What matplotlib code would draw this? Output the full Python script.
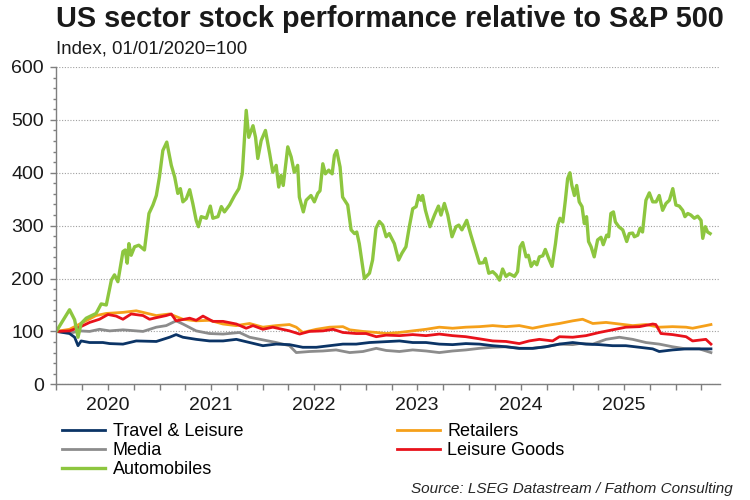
import matplotlib
matplotlib.use("Agg")
import matplotlib.pyplot as plt
import matplotlib.dates as mdates
from matplotlib.ticker import MultipleLocator
import pandas as pd

plt.rcParams["font.family"] = ["Liberation Sans", "DejaVu Sans"]

# days since 01/01/2020 (index, 01/01/2020=100)
travel_days = [0, 47, 65, 77, 88, 118, 165, 189, 236, 283, 354, 401, 424, 448, 495, 542, 590, 637, 684,
               731, 778, 825, 872, 920, 967, 1014, 1061, 1108, 1179, 1214, 1261, 1308, 1355, 1402, 1449,
               1497, 1544, 1591, 1638, 1685, 1732, 1780, 1827, 1874, 1921, 1968, 2015, 2063, 2110, 2133,
               2180, 2228, 2275, 2316]
travel_vals = [100, 96, 89, 73, 82, 79, 79, 77, 76, 82, 81, 89, 94, 89, 85, 82, 82, 85, 79,
               73, 76, 75, 70, 70, 73, 76, 76, 79, 81, 82, 79, 79, 76, 75, 77,
               76, 73, 71, 68, 68, 71, 76, 79, 76, 75, 73, 73, 70, 67, 62,
               65, 67, 67, 67]

retail_days = [0, 47, 94, 141, 177, 236, 283, 307, 354, 401, 448, 495, 542, 590, 637, 684, 731, 778,
               825, 849, 872, 920, 967, 1014, 1038, 1085, 1132, 1167, 1214, 1261, 1308, 1355, 1402,
               1449, 1497, 1544, 1591, 1638, 1685, 1732, 1780, 1827, 1862, 1898, 1945, 1992, 2039,
               2086, 2133, 2180, 2228, 2251, 2298, 2316]
retail_vals = [100, 104, 117, 130, 134, 136, 139, 136, 130, 133, 123, 120, 121, 114, 111, 115, 108, 111,
               113, 108, 98, 104, 108, 109, 103, 100, 98, 96, 98, 101, 104, 108, 106,
               108, 109, 111, 109, 111, 106, 111, 115, 120, 123, 115, 117, 114, 111,
               113, 108, 109, 108, 106, 111, 113]

media_days = [0, 59, 83, 118, 153, 189, 236, 307, 354, 389, 424, 448, 495, 542, 590, 648, 684, 731, 778,
              825, 849, 896, 943, 990, 1038, 1085, 1132, 1167, 1214, 1261, 1308, 1355, 1402, 1449,
              1497, 1544, 1591, 1638, 1685, 1732, 1780, 1827, 1850, 1898, 1945, 1992, 2039, 2086,
              2133, 2180, 2228, 2275, 2316]
media_vals = [100, 98, 101, 100, 104, 101, 103, 100, 108, 111, 120, 114, 101, 96, 95, 98, 89, 84, 79,
              73, 60, 62, 63, 65, 60, 62, 68, 64, 62, 65, 63, 60, 63, 65,
              68, 70, 71, 68, 68, 71, 76, 75, 77, 76, 85, 89, 85, 79,
              76, 71, 67, 67, 60]

leisure_days = [0, 47, 83, 118, 153, 183, 212, 236, 265, 307, 330, 354, 389, 407, 424, 472, 495, 519, 554,
                590, 637, 672, 696, 731, 766, 825, 861, 896, 943, 979, 1014, 1061, 1096, 1132, 1167,
                1214, 1261, 1308, 1355, 1402, 1449, 1497, 1544, 1591, 1638, 1673, 1709, 1756, 1780,
                1827, 1874, 1921, 1968, 2015, 2063, 2110, 2121, 2139, 2180, 2228, 2251, 2298, 2316]
leisure_vals = [100, 101, 108, 117, 123, 132, 129, 123, 133, 130, 123, 126, 130, 133, 120, 125, 121, 129, 119,
                119, 114, 106, 111, 104, 108, 101, 95, 100, 101, 104, 98, 96, 96, 90, 93,
                92, 94, 92, 95, 92, 90, 86, 82, 81, 77, 82, 85, 82, 90,
                89, 92, 98, 103, 108, 109, 114, 113, 96, 94, 90, 82, 85, 76]

auto_days = [0, 47, 65, 77, 88, 106, 141, 159, 177, 195, 206, 218, 236, 244, 251, 257, 265, 277, 292, 312,
             328, 342, 354, 365, 377, 391, 407, 419, 430, 439, 448, 460, 472, 483, 495, 503, 513, 531,
             545, 554, 572, 584, 595, 613, 631, 646, 658, 672, 681, 696, 705, 713, 725, 740, 755, 766,
             778, 787, 795, 803, 819, 831, 842, 854, 860, 874, 884, 901, 913, 925, 933, 943, 952, 964,
             976, 984, 992, 1004, 1013, 1031, 1043, 1055, 1063, 1072, 1082, 1090, 1108, 1119, 1131,
             1143, 1155, 1167, 1178, 1196, 1211, 1223, 1237, 1249, 1261, 1273, 1282, 1290, 1296, 1306,
             1322, 1338, 1352, 1361, 1373, 1385, 1400, 1414, 1424, 1435, 1452, 1467, 1483, 1497, 1511,
             1518, 1530, 1544, 1556, 1568, 1579, 1591, 1603, 1621, 1632, 1641, 1650, 1662, 1670, 1680,
             1691, 1700, 1709, 1721, 1730, 1742, 1754, 1766, 1774, 1782, 1792, 1801, 1809, 1817, 1824,
             1833, 1841, 1850, 1860, 1868, 1876, 1883, 1892, 1903, 1915, 1927, 1935, 1947, 1954, 1962,
             1971, 1978, 1990, 2004, 2018, 2027, 2039, 2045, 2057, 2065, 2074, 2086, 2098, 2110, 2122,
             2133, 2145, 2157, 2169, 2181, 2192, 2204, 2216, 2224, 2234, 2245, 2257, 2269, 2281, 2287,
             2296, 2304, 2313]
auto_vals = [100, 141, 122, 89, 115, 125, 134, 152, 150, 197, 207, 194, 251, 254, 229, 266, 244, 260, 263, 254,
             323, 339, 357, 392, 442, 458, 414, 392, 361, 370, 345, 351, 368, 342, 310, 298, 317, 314,
             337, 314, 317, 336, 326, 339, 357, 370, 398, 518, 467, 489, 467, 427, 461, 480, 436, 401,
             414, 373, 395, 376, 449, 430, 401, 414, 354, 326, 348, 357, 345, 361, 366, 417, 398, 405,
             398, 433, 442, 411, 354, 339, 292, 285, 288, 266, 229, 200, 210, 235, 295,
             308, 301, 279, 285, 266, 235, 248, 260, 298, 332, 336, 357, 348, 357, 329,
             298, 320, 337, 320, 342, 320, 279, 298, 301, 292, 310, 282, 254, 229, 230,
             238, 210, 213, 207, 197, 218, 204, 209, 204, 213, 260, 268, 241, 244, 223,
             232, 226, 241, 243, 255, 238, 223, 266, 301, 314, 307, 348, 389, 400, 376,
             357, 376, 345, 336, 304, 317, 270, 260, 241, 273, 278, 264, 282, 279, 323,
             326, 307, 298, 292, 270, 285, 286, 279, 282, 295, 288, 348, 362, 345, 345,
             357, 329, 342, 348, 370, 339, 337, 329, 317, 323, 320, 314, 318, 310, 276,
             298, 288, 285]

start = pd.Timestamp("2020-01-01")


def to_dates(days):
    return start + pd.to_timedelta(days, unit="D")


fig = plt.figure(figsize=(7.5, 5), dpi=100)
ax = fig.add_axes([0.075, 0.2314, 0.885, 0.6346])

l_media, = ax.plot(to_dates(media_days), media_vals, color="#8c8c8c", lw=2.0, label="Media")
l_travel, = ax.plot(to_dates(travel_days), travel_vals, color="#0b3466", lw=2.0, label="Travel & Leisure")
l_retail, = ax.plot(to_dates(retail_days), retail_vals, color="#f5a01a", lw=2.0, label="Retailers")
l_leisure, = ax.plot(to_dates(leisure_days), leisure_vals, color="#e8121b", lw=2.0, label="Leisure Goods")
l_auto, = ax.plot(to_dates(auto_days), auto_vals, color="#8dc63f", lw=2.4, label="Automobiles")

ax.set_xlim(start, pd.Timestamp("2026-06-06"))
ax.set_ylim(0, 600)

ax.yaxis.set_major_locator(MultipleLocator(100))
ax.yaxis.set_minor_locator(MultipleLocator(20))
ax.xaxis.set_major_locator(mdates.MonthLocator(bymonth=[7]))
ax.xaxis.set_major_formatter(mdates.DateFormatter("%Y"))
ax.xaxis.set_minor_locator(mdates.MonthLocator(bymonth=[1, 4, 10]))

ax.grid(axis="y", which="major", linestyle=(0, (1, 1.5)), color="#a0a0a0", lw=0.8)
ax.set_axisbelow(True)
for side in ["top", "right"]:
    ax.spines[side].set_visible(False)
for side in ["left", "bottom"]:
    ax.spines[side].set_color("#7f7f7f")
    ax.spines[side].set_linewidth(1.0)

ax.tick_params(axis="both", which="major", labelsize=14, colors="#7f7f7f", labelcolor="#1a1a1a",
               length=4, width=1)
ax.tick_params(axis="y", which="minor", length=2.5, width=1, colors="#7f7f7f")
ax.tick_params(axis="x", which="minor", length=4, width=1, colors="#7f7f7f")
ax.tick_params(axis="x", which="major", pad=5)
ax.tick_params(axis="y", which="major", pad=5)

fig.text(0.074, 0.9466, "US sector stock performance relative to S&P 500",
         fontsize=20.8, fontweight="bold", color="#1a1a1a", va="baseline")
fig.text(0.075, 0.8934, "Index, 01/01/2020=100", fontsize=13.4, color="#1a1a1a", va="baseline")

handles = [l_travel, l_media, l_auto, l_retail, l_leisure]
fig.legend(handles=handles, labels=[h.get_label() for h in handles], ncol=2,
           loc="upper left", bbox_to_anchor=(0.0827, 0.154), frameon=False, fontsize=13,
           handlelength=2.4, handletextpad=0.4, columnspacing=8.5, labelspacing=0.11,
           borderpad=0, borderaxespad=0)

fig.text(0.977, 0.022, "Source: LSEG Datastream / Fathom Consulting", fontsize=11,
         style="italic", color="#262626", ha="right", va="center")

fig.savefig("out.png", dpi=100)
